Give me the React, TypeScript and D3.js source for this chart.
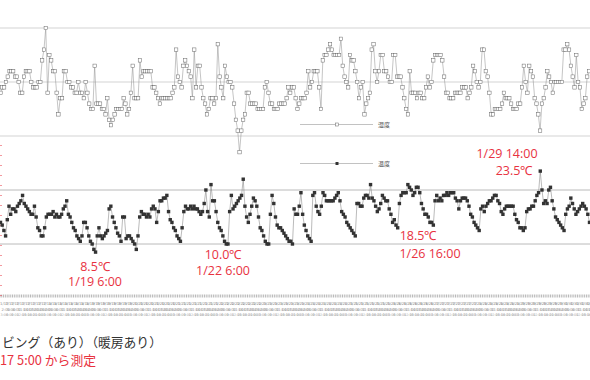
import React from "react";
import * as d3 from "d3";

const humidity: number[] = [
  38,39,39,40,41,42,42,42,41,41, 40,38,38,41,42,42,42,40,39,39,
  39,40,40,44,46,50,38,45,44,42, 42,38,34,37,37,42,42,40,40,39,
  39,38,38,40,38,38,37,40,38,36, 35,35,43,36,36,36,35,35,34,37,
  33,32,33,34,35,35,35,35,37,36, 34,35,38,43,37,37,37,44,41,42,
  42,42,42,42,39,39,38,37,36,37, 37,37,37,37,37,38,39,46,41,40,
  39,43,44,43,42,41,37,46,39,43,43,
  39,37,36,34,35,37,37,36,37,47, 41,39,37,43,41,40,40,39,36,33,
  31,27,31,33,34,38,38,36,36,36, 36,35,35,35,35,39,40,38,36,36,
  35,35,35,36,36,36,36,37,39,38, 39,39,37,35,36,37,37,37,38,42,
  39,40,42,42,42,39,35,44,45,45, 46,47,46,45,45,45,45,48,43,41,
  40,39,45,44,44,42,40,37,39,40, 34,36,37,38,46,47,42,40,42,45,
  45,42,
  42,41,40,40,45,45,41,41,41,39, 37,35,34,42,38,38,38,37,38,38,
  37,37,39,41,39,40,44,45,45,45, 45,44,41,38,38,37,37,37,38,38,
  38,38,39,39,39,37,38,39,43,42, 40,39,40,46,46,42,41,38,34,34,
  35,35,35,35,36,38,37,37,37,36, 35,35,35,36,36,39,43,40,38,43,
  42,41,37,36,34,31,36,37,39,42, 41,40,38,40,40,40,40,40,46,46,
  47,46,43,41,39,45,40,39,35,36, 37,41,42,
];

const temperature: number[] = [
  14,13.5,12.5,11.5,14.5,17,15.5,16.5,16.5,16, 17,17.5,18,19,17.5,17,16.5,16,15.5,15.5,
  17,15,13,12.5,11.5,11.5,13,15,15.5,15.5, 15.5,16,15,15.5,15,15,15.5,16.5,17,18,
  15.5,15,14,13,12.5,11.5,11,10.5,11.5,14, 14,13,11.5,10.5,10,9,8.5,11.5,13,11.5,
  11,11.5,12,12.5,16.5,17,15,14,13,12, 11.5,10.5,15,15,11,11.5,11.5,11,10.5,10,
  9,11.5,15,16,15.5,15.5,15,15.5,15,16.5, 17,16.5,14,16,18,18,18.5,18.5,19,16,
  14.5,14,13,12.5,11.5,11,10.5,13,16,17, 16.5,16.5,17,16.5,
  17,16.5,16.5,16,15.5,16,17.5,20,16,15, 21,18,18,16,14,13,12.5,11.5,10.5,10,
  10,16,19,16.5,17,17.5,18,18.5,19,22, 17,15,14,15.5,17,18.5,18,17,15,13,
  12.5,11.5,10.5,10,10,15.5,19,17.5,15,13.5, 13,13,12.5,12,11.5,11,10.5,10.5,10,16.5,
  15.5,15.5,17,19.5,15.5,13.5,12.5,11.5,11,10.5, 19,19.5,17,16,15.5,17,19.5,19,18,18,
  18,18,18,18.5,19,19.5,18,16,15.5,15, 14,13.5,13,12.5,12,11.5,17.5,17.5,17,17,
  18.5,19,19,18.5,21,18.5,18,17,16,16.5, 17.5,19,18.5,18,18,16.5,15.5,14,
  14.5,13.5,13,17.5,19,19.5,19.5,19.5,21,20.5, 20,19,19.5,20.5,20.5,19.5,17.5,16.5,15.5,15.5,
  15,14,14,13.5,18,19,18,18.5,18,19, 19,19.5,19,19.5,19.5,19.5,18.5,18,16.5,18,
  18.5,18.5,18.5,18,17,15.5,15,14,13.5,13, 12.5,16.5,17,16,17,17.5,18,18,18.5,19,
  19,18,17.5,16,15.5,16.5,17,17,17,17, 17,15.5,14.5,14,13,13,12.5,13,16,16.5,
  16.5,17,17,18,19,19.5,23.5,20,17.5,18, 17.5,20,20.5,18,16.5,15,14.5,14,13.5,13,
  12.5,15.5,16.5,17,18.5,17.5,16.5,15.5,16,16.5, 17,17.5,17,16.5,15.5,14,
];

const gridValues = [10, 20, 30, 40, 50];

// hourly x-axis labels (too small to read in the reference)
const labelStart = new Date(2020, 0, 17, 2);
const hourTimes: Date[] = d3.timeHour.range(labelStart, d3.timeHour.offset(labelStart, 330));
const dateLabels: string[] = hourTimes.map((d) => `${d.getMonth() + 1}/${d.getDate()}`);
const timeLabels: string[] = hourTimes.map((d) => `${d.getHours()}:00`);

const RED = "#e8323f";

export default function App() {
  const W = 590, H = 380;
  const y = d3.scaleLinear().domain([0, 50]).range([298, 28]);
  const xh = d3.scaleLinear().domain([0, humidity.length - 1]).range([0.5, 589]);
  const xt = d3.scaleLinear().domain([0, temperature.length - 1]).range([0.5, 589.5]);
  const lineH = d3.line<number>().x((_, i) => xh(i)).y((d) => y(d));
  const lineT = d3.line<number>().x((_, i) => xt(i)).y((d) => y(d));
  const s = 3.4;
  const tx = d3.scaleLinear().domain([0, hourTimes.length - 1]).range([0, 590]);
  const idx3 = d3.range(0, hourTimes.length, 3);

  return (
    <svg width={W} height={H} style={{ position: "absolute", left: 0, top: 0, background: "#fff" }}>
      <rect width={W} height={H} fill="#fff" />
      {gridValues.map((v) => (
        <line key={v} x1={0} x2={W} y1={y(v)} y2={y(v)} stroke={v <= 20 ? "#a8a8a8" : "#c8c8c8"} strokeWidth={0.8} />
      ))}
      {/* x axis tiny labels band */}
      <g fontFamily="DejaVu Sans">
        {hourTimes.map((_, i) => (
          <line key={"t" + i} x1={tx(i)} x2={tx(i)} y1={294.5} y2={297.5} stroke="#999" strokeWidth={0.7} />
        ))}
        {idx3.map((i) => (
          <text key={"l" + i} x={tx(i)} y={304.5} fontSize={3.8} fill="#8c8c8c">{dateLabels[i]}</text>
        ))}
        {idx3.map((i) => (
          <text key={"m" + i} x={tx(i) + 1.5} y={310.5} fontSize={3.8} fill="#999">{timeLabels[i]}</text>
        ))}
        {idx3.map((i) => (
          <text key={"n" + i} x={tx(i) + 0.5} y={316} fontSize={3.4} fill="#aaa">{timeLabels[i + 1] || ""}</text>
        ))}
      </g>
      {/* left red dotted line */}
      <line x1={1} x2={1} y1={145} y2={300} stroke={RED} strokeWidth={1} strokeDasharray="1 9" />

      {/* humidity */}
      <path d={lineH(humidity) || ""} fill="none" stroke="#8a8a8a" strokeWidth={0.5} />
      {humidity.map((d, i) => (
        <rect key={"h" + i} x={xh(i) - s / 2} y={y(d) - s / 2} width={s} height={s} fill="#fff" stroke="#666" strokeWidth={0.5} />
      ))}
      {/* temperature */}
      <path d={lineT(temperature) || ""} fill="none" stroke="#777" strokeWidth={0.5} />
      {temperature.map((d, i) => (
        <rect key={"p" + i} x={xt(i) - 1.7} y={y(d) - 1.7} width={3.4} height={3.4} fill="#333" />
      ))}

      {/* legends */}
      <line x1={300} x2={373} y1={124.5} y2={124.5} stroke="#999" strokeWidth={0.6} />
      <rect x={335.5} y={123} width={3} height={3} fill="#fff" stroke="#666" strokeWidth={0.5} />
      <text x={378} y={127} fontSize={6} fill="#555" fontFamily="Noto Sans CJK JP">湿度</text>
      <line x1={300} x2={373} y1={163.5} y2={163.5} stroke="#999" strokeWidth={0.6} />
      <rect x={335.5} y={162} width={3} height={3} fill="#333" />
      <text x={378} y={166} fontSize={6} fill="#555" fontFamily="Noto Sans CJK JP">温度</text>

      {/* annotations */}
      <g fill={RED} fontFamily="Open Sans" fontSize={12.5} textAnchor="middle">
        <text x={95} y={271}>8.5℃</text>
        <text x={95} y={286}>1/19 6:00</text>
        <text x={223} y={259}>10.0℃</text>
        <text x={223} y={275}>1/22 6:00</text>
        <text x={418} y={240}>18.5℃</text>
        <text x={430} y={258}>1/26 16:00</text>
        <text x={507} y={158}>1/29 14:00</text>
        <text x={514} y={175}>23.5℃</text>
      </g>

      <text x={2} y={347} fontSize={12.8} fill="#333" fontFamily="Noto Sans CJK JP">ビング（あり）（暖房あり）</text>
      <text x={0} y={365} fontSize={12.8} fill={RED} fontFamily="Noto Sans CJK JP">17 5:00 から測定</text>
    </svg>
  );
}
